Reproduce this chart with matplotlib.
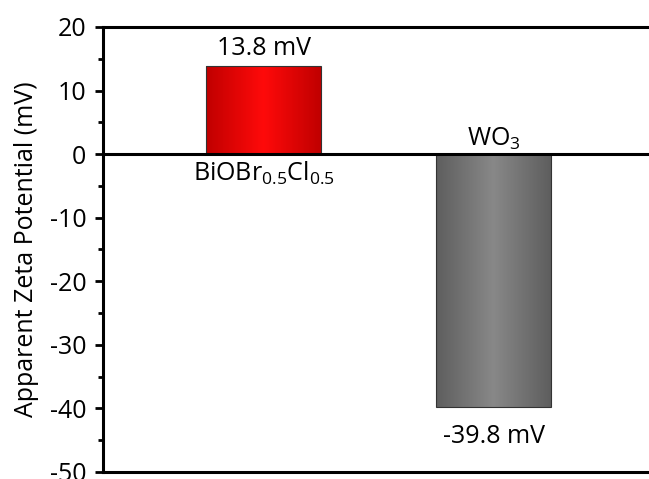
import numpy as np
import matplotlib
matplotlib.use('Agg')
import matplotlib.pyplot as plt
from matplotlib.colors import LinearSegmentedColormap

plt.rcParams['font.family'] = ['Open Sans', 'DejaVu Sans']
plt.rcParams['mathtext.fontset'] = 'custom'
plt.rcParams['mathtext.rm'] = 'Open Sans'
plt.rcParams['mathtext.it'] = 'Open Sans'
plt.rcParams['mathtext.default'] = 'rm'
plt.rcParams['axes.unicode_minus'] = False

# datos
materiales = [r'BiOBr$_{0.5}$Cl$_{0.5}$', r'WO$_3$']
zeta = [13.8, -39.8]
etiquetas = ['13.8 mV', '-39.8 mV']
posiciones = [1, 2]

fig = plt.figure(figsize=(6.49, 4.79), dpi=100)
ax = fig.add_axes([103/649, 1 - 472/479, 552/649, 445/479])

barras = ax.bar(posiciones, zeta, width=0.5, color='none', edgecolor='#333333', linewidth=0.8, zorder=3)

# degradado horizontal para cada barra
mapas = [
    LinearSegmentedColormap.from_list('rojo', ['#c00000', '#ff0a0a', '#c00000']),
    LinearSegmentedColormap.from_list('gris', ['#5e5e5e', '#888888', '#5e5e5e']),
]
grad = np.linspace(0, 1, 256).reshape(1, -1)
for b, cm in zip(barras, mapas):
    x0, y0 = b.get_x(), b.get_y()
    w, h = b.get_width(), b.get_height()
    im = ax.imshow(grad, cmap=cm, aspect='auto',
                   extent=[x0, x0 + w, min(y0, y0 + h), max(y0, y0 + h)], zorder=2)
    im.set_clip_path(b)

ax.axhline(0, color='black', linewidth=2.2, zorder=4)

ax.set_xlim(0.3, 2.7)
ax.set_ylim(-50, 20)
ax.set_yticks(np.arange(-50, 21, 10))
ax.set_yticks(np.arange(-45, 20, 10), minor=True)
ax.set_xticks([])
ax.tick_params(axis='y', which='major', labelsize=18, width=2, length=6, direction='out', pad=6)
ax.tick_params(axis='y', which='minor', width=2, length=3.5, direction='out')
for lado in ['left', 'bottom', 'top', 'right']:
    ax.spines[lado].set_linewidth(2.2)

ax.set_ylabel('Apparent Zeta Potential (mV)', fontsize=18, labelpad=8)

# textos
ax.text(1, 16.6, etiquetas[0], ha='center', va='center', fontsize=18)
ax.text(1, -3.1, materiales[0], ha='center', va='center', fontsize=18)
ax.text(2, 2.4, materiales[1], ha='center', va='center', fontsize=18)
ax.text(2, -44.4, etiquetas[1], ha='center', va='center', fontsize=18)

plt.savefig('out.png', dpi=100)
